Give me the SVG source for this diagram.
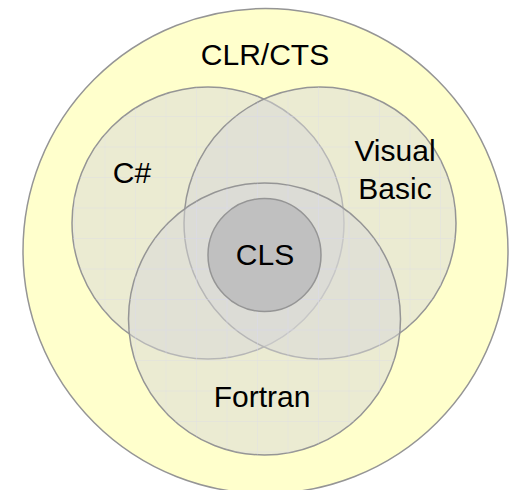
<svg xmlns="http://www.w3.org/2000/svg" width="512" height="490" viewBox="0 0 512 490">
<style>
.lang{fill:#d8d8d8;fill-opacity:0.5;stroke:#959595;stroke-width:1.5}
.grid{fill:url(#grid)}
text{font-family:"Liberation Sans",Arial,sans-serif;font-size:30px;fill:#000;text-anchor:middle}
</style>
<defs>
<pattern id="grid" x="13" y="116" width="30.5" height="30.5" patternUnits="userSpaceOnUse">
<path d="M0 0H30.5M0 0V30.5" fill="none" stroke="#d8d8ec" stroke-width="1" stroke-opacity="0.6"/>
</pattern>
</defs>
<rect width="512" height="490" fill="#fff"/>
<g id="clr">
<circle cx="265.5" cy="251" r="242.5" fill="#ffffcc" stroke="#959595" stroke-width="1.5"/>
<text x="265" y="65">CLR/CTS</text>
</g>
<g id="csharp">
<circle class="lang" cx="208" cy="223" r="136"/>
<circle class="grid" cx="208" cy="223" r="136"/>
</g>
<g id="vb">
<circle class="lang" cx="320" cy="223" r="136"/>
<circle class="grid" cx="320" cy="223" r="136"/>
</g>
<g id="fortran">
<circle class="lang" cx="264.5" cy="319" r="136"/>
<circle class="grid" cx="264.5" cy="319" r="136"/>
</g>
<g id="cls">
<circle cx="264.5" cy="255" r="56.5" fill="#c0c0c0" stroke="#959595" stroke-width="1.5"/>
<text x="265" y="265">CLS</text>
</g>
<g id="labels">
<text x="132" y="183">C#</text>
<text x="395" y="161">Visual</text>
<text x="395" y="199">Basic</text>
<text x="262" y="407">Fortran</text>
</g>
</svg>
